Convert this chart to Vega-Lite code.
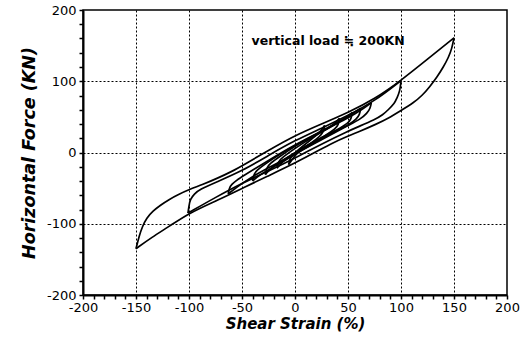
{
  "$schema": "https://vega.github.io/schema/vega-lite/v6.json",
  "width": 424,
  "height": 285,
  "autosize": "none",
  "padding": {"left": 83, "top": 10, "right": 21, "bottom": 45},
  "background": "white",
  "config": {
    "view": {"stroke": "black", "strokeWidth": 1.5},
    "font": "DejaVu Sans"
  },
  "encoding": {
    "x": {
      "field": "strain", "type": "quantitative",
      "scale": {"domain": [-200, 200], "nice": false, "zero": false},
      "axis": {
        "title": "Shear Strain (%)",
        "titleFont": "DejaVu Sans", "titleFontSize": 15, "titleFontWeight": "bold", "titleFontStyle": "italic", "titleColor": "black", "titlePadding": 2,
        "values": [-200,-190,-180,-170,-160,-150,-140,-130,-120,-110,-100,-90,-80,-70,-60,-50,-40,-30,-20,-10,0,10,20,30,40,50,60,70,80,90,100,110,120,130,140,150,160,170,180,190,200],
        "labelExpr": "datum.value % 50 === 0 ? '' + datum.value : ''",
        "labelOverlap": false, "labelFlush": false,
        "labelFont": "DejaVu Sans", "labelFontSize": 13, "labelColor": "black", "labelPadding": 2,
        "domainColor": "black", "domainWidth": 2,
        "tickColor": "black", "tickWidth": 1.5, "tickSize": 4,
        "grid": true, "gridColor": "black", "gridDash": [2, 2], "gridWidth": 1,
        "gridOpacity": {"condition": {"test": "datum.value % 50 === 0 && abs(datum.value) < 200", "value": 1}, "value": 0}
      }
    },
    "y": {
      "field": "force", "type": "quantitative",
      "scale": {"domain": [-200, 200], "nice": false, "zero": false},
      "axis": {
        "title": "Horizontal Force (KN)",
        "titleFont": "DejaVu Sans", "titleFontSize": 17.5, "titleFontWeight": "bold", "titleFontStyle": "italic", "titleColor": "black", "titlePadding": 8,
        "values": [-200,-180,-160,-140,-120,-100,-80,-60,-40,-20,0,20,40,60,80,100,120,140,160,180,200],
        "labelExpr": "datum.value % 100 === 0 ? '' + datum.value : ''",
        "labelOverlap": false, "labelFlush": false,
        "labelFont": "DejaVu Sans", "labelFontSize": 13, "labelColor": "black", "labelPadding": 3,
        "domainColor": "black", "domainWidth": 2,
        "tickColor": "black", "tickWidth": 1.5, "tickSize": 4,
        "grid": true, "gridColor": "black", "gridDash": [2, 2], "gridWidth": 1,
        "gridOpacity": {"condition": {"test": "datum.value % 100 === 0 && abs(datum.value) < 200", "value": 1}, "value": 0}
      }
    }
  },
  "layer": [
    {
      "data": {"values": [
        {"branch":"1u","strain":-150,"force":-135},{"branch":"1u","strain":-147,"force":-117},{"branch":"1u","strain":-144,"force":-104},{"branch":"1u","strain":-140,"force":-92},{"branch":"1u","strain":-134,"force":-82},{"branch":"1u","strain":-127,"force":-74},{"branch":"1u","strain":-119,"force":-66},{"branch":"1u","strain":-110,"force":-59},{"branch":"1u","strain":-100,"force":-52},{"branch":"1u","strain":-87,"force":-45},{"branch":"1u","strain":-73,"force":-36},{"branch":"1u","strain":-60,"force":-27},{"branch":"1u","strain":-48,"force":-17},{"branch":"1u","strain":-25,"force":3},{"branch":"1u","strain":0,"force":24},{"branch":"1u","strain":25,"force":40},{"branch":"1u","strain":50,"force":56},{"branch":"1u","strain":75,"force":75},{"branch":"1u","strain":100,"force":101},{"branch":"1u","strain":125,"force":131},{"branch":"1u","strain":150,"force":161},
        {"branch":"1l","strain":150,"force":161},{"branch":"1l","strain":148,"force":146},{"branch":"1l","strain":145,"force":134},{"branch":"1l","strain":140,"force":120},{"branch":"1l","strain":134,"force":106},{"branch":"1l","strain":127,"force":92},{"branch":"1l","strain":120,"force":80},{"branch":"1l","strain":112,"force":70},{"branch":"1l","strain":100,"force":59},{"branch":"1l","strain":88,"force":48},{"branch":"1l","strain":77,"force":40},{"branch":"1l","strain":60,"force":29},{"branch":"1l","strain":50,"force":23},{"branch":"1l","strain":35,"force":13},{"branch":"1l","strain":25,"force":5},{"branch":"1l","strain":0,"force":-15},{"branch":"1l","strain":-27,"force":-34},{"branch":"1l","strain":-48,"force":-49},{"branch":"1l","strain":-73,"force":-67},{"branch":"1l","strain":-100,"force":-85},{"branch":"1l","strain":-119,"force":-104},{"branch":"1l","strain":-135,"force":-119},{"branch":"1l","strain":-150,"force":-135},
        {"branch":"2u","strain":-101,"force":-85},{"branch":"2u","strain":-100,"force":-75},{"branch":"2u","strain":-99,"force":-66},{"branch":"2u","strain":-95,"force":-58},{"branch":"2u","strain":-90,"force":-52},{"branch":"2u","strain":-75,"force":-42},{"branch":"2u","strain":-50,"force":-26},{"branch":"2u","strain":-25,"force":-4},{"branch":"2u","strain":0,"force":17},{"branch":"2u","strain":25,"force":34},{"branch":"2u","strain":50,"force":52},{"branch":"2u","strain":75,"force":72},{"branch":"2u","strain":100,"force":101},
        {"branch":"2l","strain":100,"force":101},{"branch":"2l","strain":99,"force":86},{"branch":"2l","strain":96,"force":76},{"branch":"2l","strain":94,"force":69},{"branch":"2l","strain":88,"force":60},{"branch":"2l","strain":83,"force":53},{"branch":"2l","strain":75,"force":46},{"branch":"2l","strain":61,"force":37},{"branch":"2l","strain":50,"force":30},{"branch":"2l","strain":25,"force":12},{"branch":"2l","strain":0,"force":-8},{"branch":"2l","strain":-25,"force":-26},{"branch":"2l","strain":-50,"force":-43},{"branch":"2l","strain":-75,"force":-63},{"branch":"2l","strain":-101,"force":-85},
        {"branch":"3u","strain":-63,"force":-58},{"branch":"3u","strain":-62,"force":-50},{"branch":"3u","strain":-60,"force":-45},{"branch":"3u","strain":-55,"force":-39},{"branch":"3u","strain":-50,"force":-34},{"branch":"3u","strain":-25,"force":-11},{"branch":"3u","strain":0,"force":11},{"branch":"3u","strain":25,"force":30},{"branch":"3u","strain":50,"force":48},{"branch":"3u","strain":65,"force":62},{"branch":"3u","strain":72,"force":70},
        {"branch":"3l","strain":72,"force":70},{"branch":"3l","strain":71,"force":62},{"branch":"3l","strain":68,"force":55},{"branch":"3l","strain":62,"force":47},{"branch":"3l","strain":50,"force":38},{"branch":"3l","strain":25,"force":18},{"branch":"3l","strain":0,"force":-2},{"branch":"3l","strain":-25,"force":-21},{"branch":"3l","strain":-45,"force":-38},{"branch":"3l","strain":-55,"force":-49},{"branch":"3l","strain":-63,"force":-58},
        {"branch":"4u","strain":-40,"force":-40},{"branch":"4u","strain":-39,"force":-31},{"branch":"4u","strain":-36,"force":-25},{"branch":"4u","strain":-30,"force":-18},{"branch":"4u","strain":-15,"force":-3},{"branch":"4u","strain":0,"force":10},{"branch":"4u","strain":25,"force":28},{"branch":"4u","strain":45,"force":46},{"branch":"4u","strain":56,"force":56},{"branch":"4u","strain":62,"force":62},
        {"branch":"4l","strain":62,"force":62},{"branch":"4l","strain":61,"force":53},{"branch":"4l","strain":58,"force":47},{"branch":"4l","strain":52,"force":40},{"branch":"4l","strain":40,"force":31},{"branch":"4l","strain":25,"force":20},{"branch":"4l","strain":0,"force":-3},{"branch":"4l","strain":-20,"force":-20},{"branch":"4l","strain":-33,"force":-31},{"branch":"4l","strain":-40,"force":-40},
        {"branch":"5u","strain":-28,"force":-31},{"branch":"5u","strain":-27,"force":-22},{"branch":"5u","strain":-24,"force":-16},{"branch":"5u","strain":-15,"force":-6},{"branch":"5u","strain":0,"force":9},{"branch":"5u","strain":20,"force":26},{"branch":"5u","strain":40,"force":42},{"branch":"5u","strain":50,"force":51},{"branch":"5u","strain":54,"force":56},
        {"branch":"5l","strain":54,"force":56},{"branch":"5l","strain":53,"force":47},{"branch":"5l","strain":50,"force":41},{"branch":"5l","strain":40,"force":32},{"branch":"5l","strain":25,"force":21},{"branch":"5l","strain":0,"force":0},{"branch":"5l","strain":-15,"force":-14},{"branch":"5l","strain":-23,"force":-22},{"branch":"5l","strain":-28,"force":-31},
        {"branch":"6u","strain":-17,"force":-22},{"branch":"6u","strain":-16,"force":-13},{"branch":"6u","strain":-12,"force":-7},{"branch":"6u","strain":0,"force":6},{"branch":"6u","strain":15,"force":20},{"branch":"6u","strain":30,"force":33},{"branch":"6u","strain":38,"force":41},{"branch":"6u","strain":42,"force":48},
        {"branch":"6l","strain":42,"force":48},{"branch":"6l","strain":41,"force":39},{"branch":"6l","strain":38,"force":33},{"branch":"6l","strain":30,"force":25},{"branch":"6l","strain":15,"force":13},{"branch":"6l","strain":0,"force":0},{"branch":"6l","strain":-10,"force":-10},{"branch":"6l","strain":-17,"force":-22},
        {"branch":"7u","strain":-6,"force":-17},{"branch":"7u","strain":-5,"force":-8},{"branch":"7u","strain":0,"force":0},{"branch":"7u","strain":10,"force":12},{"branch":"7u","strain":20,"force":24},{"branch":"7u","strain":25,"force":31},{"branch":"7u","strain":28,"force":38},
        {"branch":"7l","strain":28,"force":38},{"branch":"7l","strain":27,"force":29},{"branch":"7l","strain":23,"force":22},{"branch":"7l","strain":15,"force":13},{"branch":"7l","strain":5,"force":3},{"branch":"7l","strain":0,"force":-4},{"branch":"7l","strain":-6,"force":-17}
      ]},
      "mark": {"type": "line", "color": "black", "strokeWidth": 1.7, "interpolate": "basis", "clip": true},
      "encoding": {
        "detail": {"field": "branch", "type": "nominal"}
      }
    },
    {
      "data": {"values": [{"label": "vertical load ≒ 200KN", "strain": -41, "force": 157}]},
      "mark": {"type": "text", "align": "left", "baseline": "middle", "font": "DejaVu Sans", "fontSize": 12.5, "fontWeight": "bold", "color": "black"},
      "encoding": {
        "text": {"field": "label", "type": "nominal"}
      }
    }
  ]
}
